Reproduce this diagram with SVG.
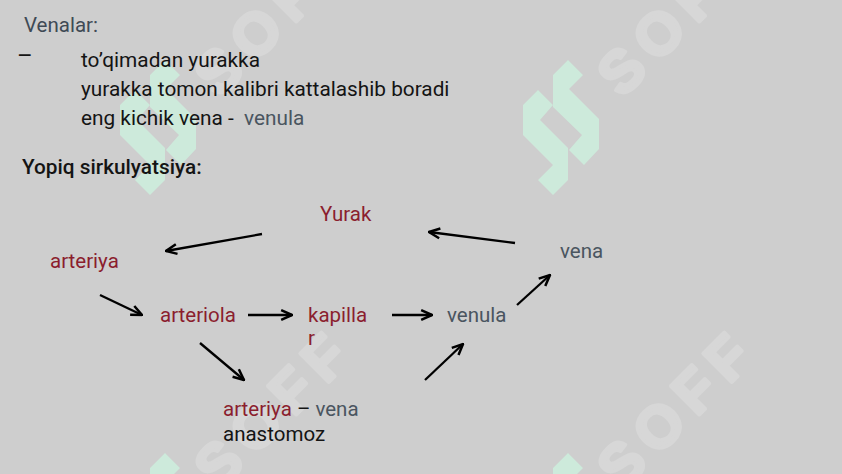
<svg xmlns="http://www.w3.org/2000/svg" width="842" height="474" viewBox="0 0 842 474">
<defs>
<style>
text{font-family:Roboto,"Liberation Sans",sans-serif;}
.t{font-size:20.8px;fill:#141414;}
.d{font-size:20.5px;}
.red{fill:#8b1e2e;}
.gray{fill:#4a5560;}
.blk{fill:#141414;}
.wm{font-family:"Liberation Sans",Arial,sans-serif;font-weight:bold;font-size:59px;letter-spacing:10px;fill:#d7d7d7;stroke:#d7d7d7;stroke-width:3.5;stroke-linejoin:round;}
.logo{fill:#cdeadb;}
.arr{stroke:#000;stroke-width:2.3;fill:none;marker-end:url(#ah);}
</style>
<marker id="ah" viewBox="0 0 12 12" refX="11" refY="6" markerWidth="13" markerHeight="13" markerUnits="userSpaceOnUse" orient="auto">
<path d="M1,1.5 L11,6 L1,10.5" fill="none" stroke="#000" stroke-width="2.3"/>
</marker>
<g id="wmark">
<polygon class="logo" points="0,0 15,15 1,29 31,59 31,89 16,105 1,90 14,75 -15,47 -15,15"/>
<polygon class="logo" points="-30,30 -15,45 -28,60 0,88 0,120 -15,135 -30,120 -15,105 -45,75 -45,45"/>
<text class="wm" x="54" y="39" transform="rotate(-45 54 39)">SOFF</text>
</g>
</defs>
<rect width="842" height="474" fill="#cecece"/>
<g id="watermarks">
<use href="#wmark" x="568" y="60"/>
<use href="#wmark" x="165" y="60"/>
<use href="#wmark" x="568" y="453"/>
<use href="#wmark" x="165" y="453"/>
</g>
<g id="header">
<text x="24" y="32" style="font-size:20.5px;fill:#3f4a55">Venalar:</text>
<text x="17" y="64" class="blk" style="font-size:24px">–</text>
<text x="81" y="67" class="t">to’qimadan yurakka</text>
<text x="81" y="96" class="t">yurakka tomon kalibri kattalashib boradi</text>
<text x="81" y="125" class="t" xml:space="preserve">eng kichik vena -  <tspan class="gray">venula</tspan></text>
<text x="22" y="174" class="t" style="font-weight:500">Yopiq sirkulyatsiya:</text>
</g>
<g id="connectors">
<line class="arr" x1="262" y1="234" x2="166" y2="251"/>
<line class="arr" x1="100" y1="295" x2="142" y2="315"/>
<line class="arr" x1="248" y1="315" x2="292" y2="315"/>
<line class="arr" x1="392" y1="315" x2="432" y2="315"/>
<line class="arr" x1="517" y1="305" x2="550" y2="275"/>
<line class="arr" x1="515" y1="243" x2="429" y2="232"/>
<line class="arr" x1="200" y1="343" x2="244" y2="380"/>
<line class="arr" x1="425" y1="380" x2="463" y2="344"/>
</g>
<g id="yurak"><text x="320" y="221" class="d red">Yurak</text></g>
<g id="arteriya"><text x="50" y="268" class="d red">arteriya</text></g>
<g id="arteriola"><text x="160" y="322" class="d red">arteriola</text></g>
<g id="kapillar"><text x="308" y="322" class="d red">kapilla</text><text x="308" y="345" class="d red">r</text></g>
<g id="venula"><text x="447" y="322" class="d gray">venula</text></g>
<g id="vena"><text x="560" y="258" class="d gray">vena</text></g>
<g id="anastomoz"><text x="223" y="416" class="d red">arteriya<tspan class="blk"> – </tspan><tspan class="gray">vena</tspan></text><text x="223" y="441" class="d blk">anastomoz</text></g>
</svg>
